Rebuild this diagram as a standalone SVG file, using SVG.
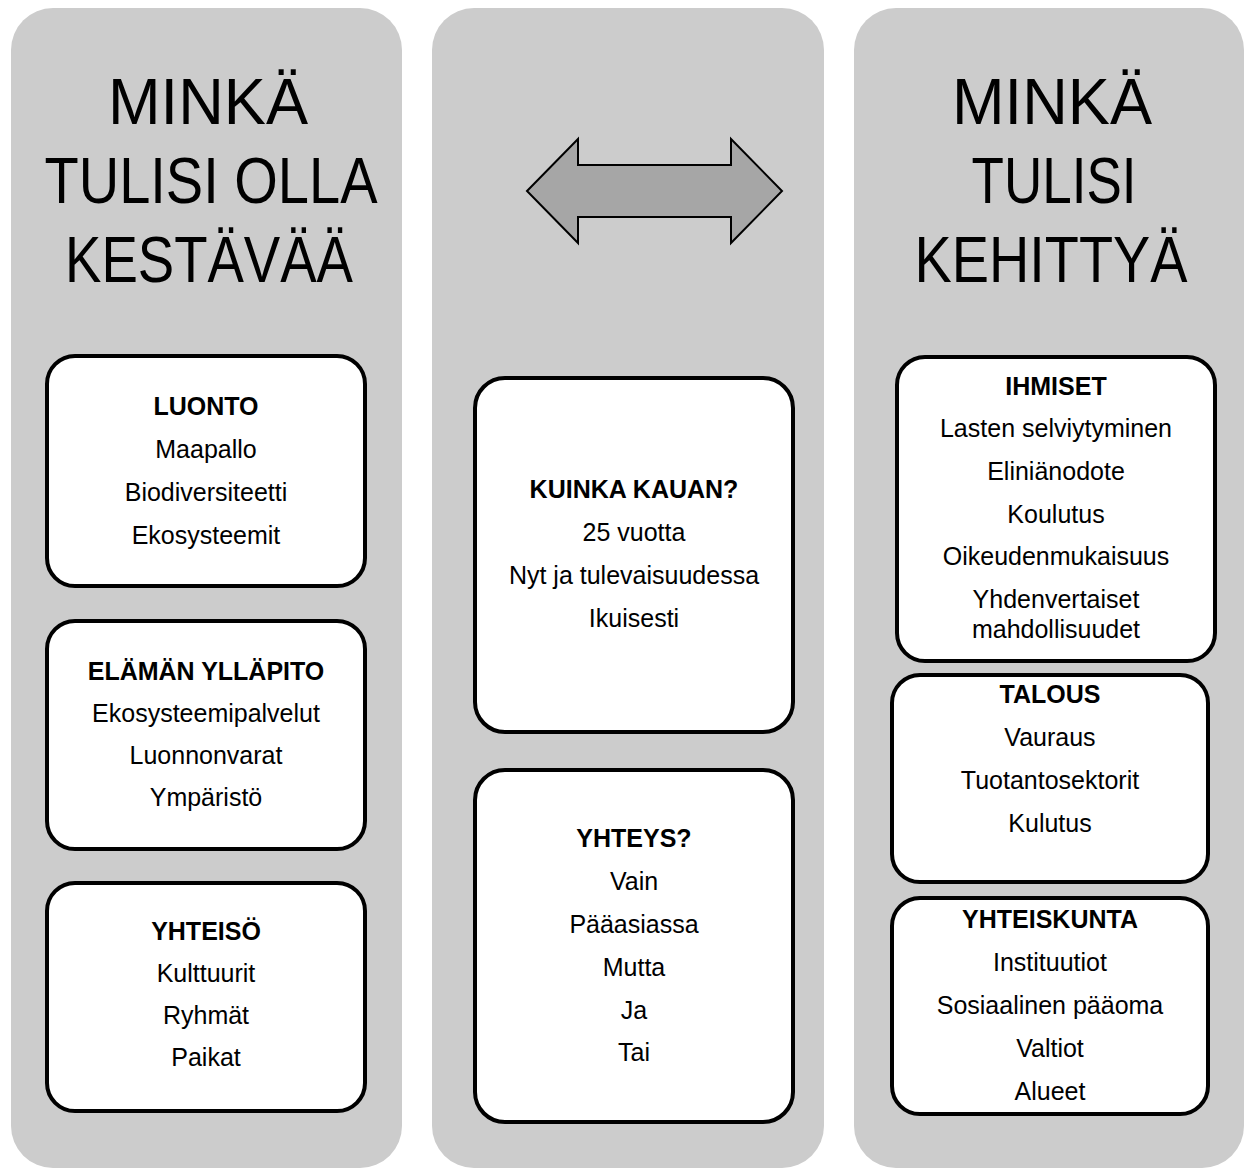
<svg xmlns="http://www.w3.org/2000/svg" width="1246" height="1170" viewBox="0 0 1246 1170">
<style>
.panel{fill:#cccccc;}
.box{fill:#ffffff;stroke:#000000;stroke-width:4;}
.title{font-family:"Liberation Sans",Arial,sans-serif;font-size:64px;fill:#000;text-anchor:middle;}
.t{font-family:"Liberation Sans",Arial,sans-serif;font-size:25px;fill:#000;text-anchor:middle;}
.b{font-weight:bold;}
.arrow{fill:#a6a6a6;stroke:#000;stroke-width:2;}
</style>
<rect width="1246" height="1170" fill="#ffffff"/>
<g id="panel-left">
<rect class="panel" x="11" y="8" width="391" height="1160" rx="42"/>
<text class="title" x="208" y="124" textLength="200" lengthAdjust="spacingAndGlyphs">MINKÄ</text>
<text class="title" x="211" y="203" textLength="333" lengthAdjust="spacingAndGlyphs">TULISI OLLA</text>
<text class="title" x="209" y="282" textLength="288" lengthAdjust="spacingAndGlyphs">KESTÄVÄÄ</text>
</g>
<g id="panel-middle">
<rect class="panel" x="432" y="8" width="392" height="1160" rx="42"/>
</g>
<g id="panel-right">
<rect class="panel" x="854" y="8" width="390" height="1160" rx="42"/>
<text class="title" x="1052" y="124" textLength="200" lengthAdjust="spacingAndGlyphs">MINKÄ</text>
<text class="title" x="1054" y="203" textLength="165" lengthAdjust="spacingAndGlyphs">TULISI</text>
<text class="title" x="1051" y="282" textLength="273" lengthAdjust="spacingAndGlyphs">KEHITTYÄ</text>
</g>
<g id="connectors">
<polygon class="arrow" points="527,191 578,139 578,165 731,165 731,139 782,191 731,243 731,217 578,217 578,243"/>
</g>
<g id="luonto">
<rect class="box" x="47" y="356" width="318" height="230" rx="28"/>
<text class="t b" x="206" y="415">LUONTO</text>
<text class="t" x="206" y="458">Maapallo</text>
<text class="t" x="206" y="501">Biodiversiteetti</text>
<text class="t" x="206" y="544">Ekosysteemit</text>
</g>
<g id="elaman-yllapito">
<rect class="box" x="47" y="621" width="318" height="228" rx="28"/>
<text class="t b" x="206" y="680">ELÄMÄN YLLÄPITO</text>
<text class="t" x="206" y="722">Ekosysteemipalvelut</text>
<text class="t" x="206" y="764">Luonnonvarat</text>
<text class="t" x="206" y="806">Ympäristö</text>
</g>
<g id="yhteiso">
<rect class="box" x="47" y="883" width="318" height="228" rx="28"/>
<text class="t b" x="206" y="940">YHTEISÖ</text>
<text class="t" x="206" y="982">Kulttuurit</text>
<text class="t" x="206" y="1024">Ryhmät</text>
<text class="t" x="206" y="1066">Paikat</text>
</g>
<g id="kuinka-kauan">
<rect class="box" x="475" y="378" width="318" height="354" rx="30"/>
<text class="t b" x="634" y="498">KUINKA KAUAN?</text>
<text class="t" x="634" y="541">25 vuotta</text>
<text class="t" x="634" y="584">Nyt ja tulevaisuudessa</text>
<text class="t" x="634" y="627">Ikuisesti</text>
</g>
<g id="yhteys">
<rect class="box" x="475" y="770" width="318" height="352" rx="30"/>
<text class="t b" x="634" y="847">YHTEYS?</text>
<text class="t" x="634" y="890">Vain</text>
<text class="t" x="634" y="933">Pääasiassa</text>
<text class="t" x="634" y="976">Mutta</text>
<text class="t" x="634" y="1019">Ja</text>
<text class="t" x="634" y="1061">Tai</text>
</g>
<g id="ihmiset">
<rect class="box" x="897" y="357" width="318" height="304" rx="28"/>
<text class="t b" x="1056" y="395">IHMISET</text>
<text class="t" x="1056" y="437">Lasten selviytyminen</text>
<text class="t" x="1056" y="480">Eliniänodote</text>
<text class="t" x="1056" y="523">Koulutus</text>
<text class="t" x="1056" y="565">Oikeudenmukaisuus</text>
<text class="t" x="1056" y="608">Yhdenvertaiset</text>
<text class="t" x="1056" y="638">mahdollisuudet</text>
</g>
<g id="talous">
<rect class="box" x="892" y="675" width="316" height="207" rx="28"/>
<text class="t b" x="1050" y="703">TALOUS</text>
<text class="t" x="1050" y="746">Vauraus</text>
<text class="t" x="1050" y="789">Tuotantosektorit</text>
<text class="t" x="1050" y="832">Kulutus</text>
</g>
<g id="yhteiskunta">
<rect class="box" x="892" y="898" width="316" height="216" rx="28"/>
<text class="t b" x="1050" y="928">YHTEISKUNTA</text>
<text class="t" x="1050" y="971">Instituutiot</text>
<text class="t" x="1050" y="1014">Sosiaalinen pääoma</text>
<text class="t" x="1050" y="1057">Valtiot</text>
<text class="t" x="1050" y="1100">Alueet</text>
</g>
</svg>
